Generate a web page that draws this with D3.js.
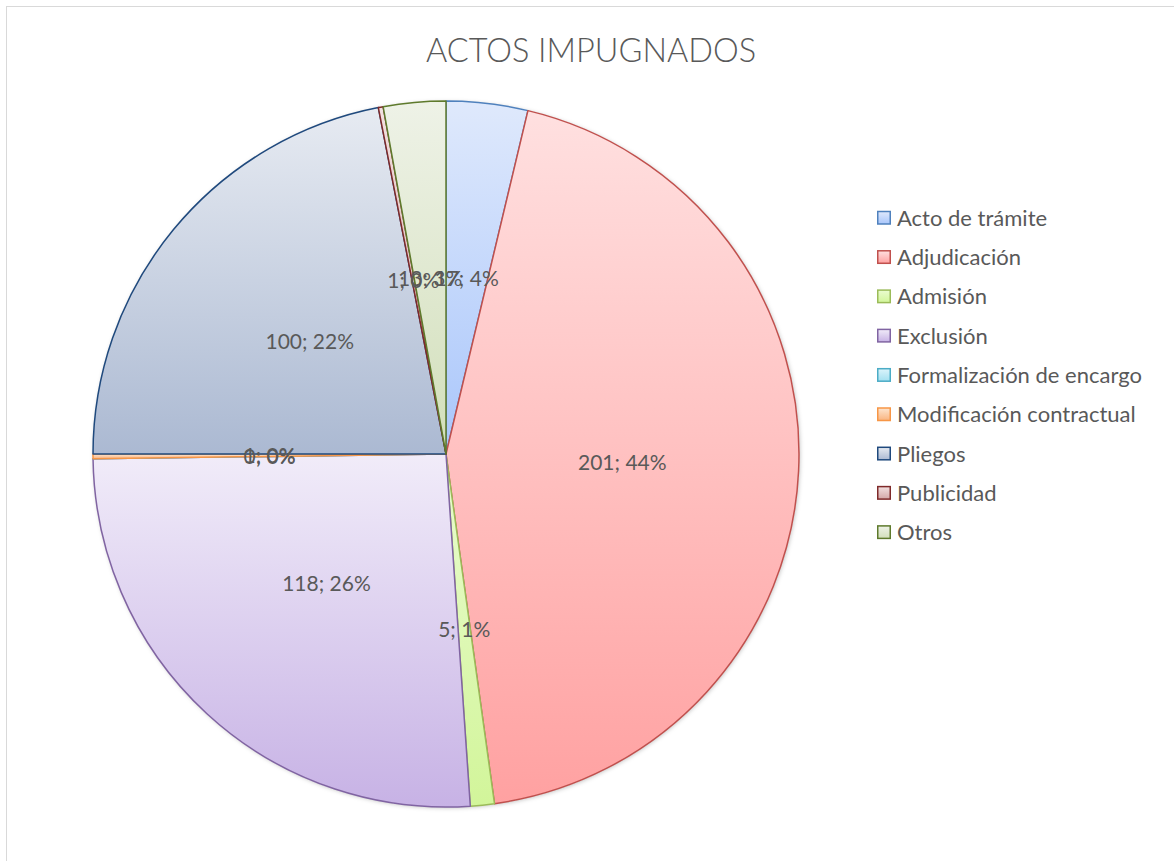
<!DOCTYPE html>
<html>
<head>
<meta charset="utf-8">
<script src="https://cdn.jsdelivr.net/npm/d3@7"></script>
<style>
  body { margin: 0; background: #fff; }
  svg { display: block; font-family: Lato, "Open Sans", sans-serif; }
</style>
</head>
<body>
<div id="chart"></div>
<script>
// data
var categories = ["Acto de trámite", "Adjudicación", "Admisión", "Exclusión",
                  "Formalización de encargo", "Modificación contractual",
                  "Pliegos", "Publicidad", "Otros"];
var values = [17, 201, 5, 118, 0, 1, 100, 1, 13];
var title = "ACTOS IMPUGNADOS";

// colours: stroke, gradient top, gradient bottom
var strokes = ["#4f81bd", "#c0504d", "#9bbb59", "#8064a2", "#4bacc6", "#f79646", "#1f497d", "#7f2a2a", "#5e7a2c"];
var topCols = ["#dfe9fc", "#ffe0e0", "#eafcd0", "#f1ecf9", "#dcf4fb", "#fde5cf", "#e7ebf2", "#f2e0e0", "#eef2e7"];
var botCols = ["#a9c6fb", "#ffa1a1", "#d2f59a", "#c7b2e5", "#a3e0f0", "#f9b480", "#abb9d2", "#d3a7a7", "#d2dfba"];

var width = 1174, height = 861;
var cx = 446, cy = 454, radius = 353;

var svg = d3.select("#chart").append("svg")
    .attr("width", width)
    .attr("height", height);

// chart frame
svg.append("rect")
    .attr("x", 6.5).attr("y", 6.5)
    .attr("width", 1200).attr("height", 900)
    .attr("fill", "#fff")
    .attr("stroke", "#d9d9d9");

var defs = svg.append("defs");
categories.forEach(function (c, i) {
  var g = defs.append("linearGradient")
      .attr("id", "grad" + i)
      .attr("x1", 0).attr("y1", 0).attr("x2", 0).attr("y2", 1);
  g.append("stop").attr("offset", "0%").attr("stop-color", topCols[i]);
  g.append("stop").attr("offset", "100%").attr("stop-color", botCols[i]);
});
var shadow = defs.append("filter").attr("id", "shadow")
    .attr("x", "-10%").attr("y", "-10%").attr("width", "120%").attr("height", "120%");
shadow.append("feDropShadow")
    .attr("dx", 1).attr("dy", 1).attr("stdDeviation", 2)
    .attr("flood-color", "#000").attr("flood-opacity", 0.25);

svg.append("text")
    .attr("x", 591).attr("y", 62)
    .attr("text-anchor", "middle")
    .attr("fill", "#595959")
    .style("font-size", "32.5px")
    .style("font-weight", 300)
    .text(title);

var total = d3.sum(values);
var pie = d3.pie().sort(null).value(function (d) { return d.value; });
var rows = categories.map(function (c, i) { return {name: c, value: values[i], i: i}; });
var arcs = pie(rows);

var arc = d3.arc().innerRadius(0).outerRadius(radius);
var labelArc = d3.arc().innerRadius(radius * 0.5).outerRadius(radius * 0.5);

var g = svg.append("g").attr("transform", "translate(" + cx + "," + cy + ")");

g.append("circle").attr("r", radius).attr("fill", "#fff").attr("filter", "url(#shadow)");

g.selectAll("path.slice").data(arcs).enter().append("path")
    .attr("class", "slice")
    .attr("d", arc)
    .attr("fill", function (d) { return "url(#grad" + d.data.i + ")"; })
    .attr("stroke", function (d) { return strokes[d.data.i]; })
    .attr("stroke-width", 1.5)
    .attr("stroke-linejoin", "round");

g.selectAll("text.lbl").data(arcs).enter().append("text")
    .attr("class", "lbl")
    .attr("transform", function (d) { return "translate(" + labelArc.centroid(d) + ")"; })
    .attr("text-anchor", "middle")
    .attr("dy", "0.35em")
    .attr("fill", "#595959")
    .style("font-size", "21px")
    .text(function (d) { return d.data.value + "; " + Math.round(d.data.value / total * 100) + "%"; });

// legend
var legend = svg.append("g").attr("transform", "translate(877,218)");
var item = legend.selectAll("g").data(rows).enter().append("g")
    .attr("transform", function (d, i) { return "translate(0," + (i * 39.3) + ")"; });
item.append("rect")
    .attr("x", 0.75).attr("y", -6.5)
    .attr("width", 12.5).attr("height", 12.5)
    .attr("fill", function (d) { return "url(#grad" + d.i + ")"; })
    .attr("stroke", function (d) { return strokes[d.i]; })
    .attr("stroke-width", 1.5);
item.append("text")
    .attr("x", 20).attr("dy", "0.35em")
    .attr("fill", "#595959")
    .style("font-size", "22px")
    .text(function (d) { return d.name; });
</script>
</body>
</html>
